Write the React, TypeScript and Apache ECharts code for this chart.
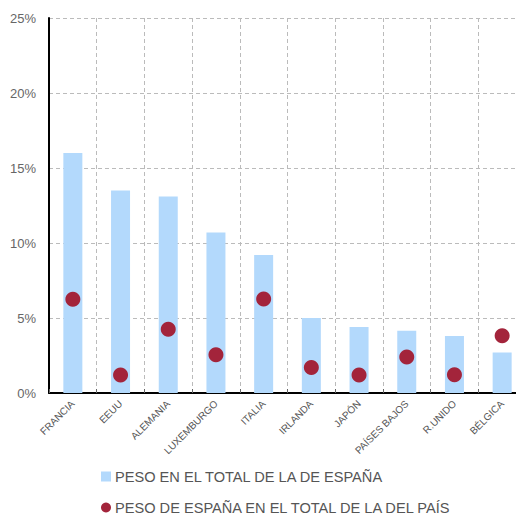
import React, { useEffect, useRef } from "react";
import * as echarts from "echarts";

const categories = ["FRANCIA", "EEUU", "ALEMANIA", "LUXEMBURGO", "ITALIA", "IRLANDA", "JAPÓN", "PAÍSES BAJOS", "R.UNIDO", "BÉLGICA"];
const pesoEspana = [16.0, 13.5, 13.1, 10.7, 9.2, 5.0, 4.4, 4.15, 3.8, 2.7];
const pesoPais = [6.25, 1.2, 4.25, 2.55, 6.27, 1.7, 1.2, 2.4, 1.22, 3.82];
const seriesNames = ["PESO EN EL TOTAL DE LA DE ESPAÑA", "PESO DE ESPAÑA EN EL TOTAL DE LA DEL PAÍS"];

const FONT = "'Liberation Sans', Arial, Helvetica, sans-serif";

const legendBase = {
  orient: "horizontal",
  left: 101,
  itemWidth: 10,
  itemHeight: 10,
  itemGap: 0,
  padding: 0,
  itemStyle: { borderWidth: 0 },
  textStyle: { fontSize: 14.6, color: "#555", fontFamily: FONT, padding: [0, 0, 0, -1] },
};

export default function App() {
  const ref = useRef<HTMLDivElement>(null);
  useEffect(() => {
    document.body.style.margin = "0";
    const chart = echarts.init(ref.current!, undefined, { renderer: "svg" });
    chart.setOption({
      animation: false,
      textStyle: { fontFamily: FONT },
      grid: { left: 49, top: 18, width: 477, height: 375, containLabel: false },
      legend: [
        { ...legendBase, top: 469, data: [{ name: seriesNames[0], icon: "rect" }] },
        { ...legendBase, top: 500, data: [{ name: seriesNames[1], icon: "circle" }] },
      ],
      xAxis: {
        type: "category",
        data: categories,
        boundaryGap: true,
        axisLine: { show: true, lineStyle: { color: "#000", width: 2 } },
        axisTick: { show: true, inside: true, length: 4, lineStyle: { color: "#666" } },
        splitLine: { show: true, lineStyle: { color: "#bbb", type: [4, 3], width: 1 } },
        axisLabel: { rotate: 45, fontSize: 10, color: "#555", margin: 9, interval: 0, fontFamily: FONT },
      },
      yAxis: {
        type: "value",
        min: 0,
        max: 25,
        interval: 5,
        axisLine: { show: true, lineStyle: { color: "#000", width: 2 } },
        axisTick: { show: false },
        splitLine: { show: true, lineStyle: { color: "#bbb", type: [4, 3], width: 1 } },
        axisLabel: { formatter: "{value}%", fontSize: 13, color: "#666", margin: 13, fontFamily: FONT },
      },
      series: [
        {
          name: seriesNames[0],
          type: "bar",
          data: pesoEspana,
          barWidth: 19,
          itemStyle: { color: "#b3d9fc" },
          z: 2,
        },
        {
          name: seriesNames[1],
          type: "scatter",
          data: pesoPais,
          symbol: "circle",
          symbolSize: 15,
          itemStyle: { color: "#a3243b", opacity: 1 },
          z: 3,
        },
      ],
    });
    return () => chart.dispose();
  }, []);
  return (
    <div style={{ position: "absolute", left: 0, top: 0, width: 516, height: 517, overflow: "hidden" }}>
      <div ref={ref} style={{ position: "absolute", left: 0, top: 0, width: 540, height: 517 }} />
    </div>
  );
}
